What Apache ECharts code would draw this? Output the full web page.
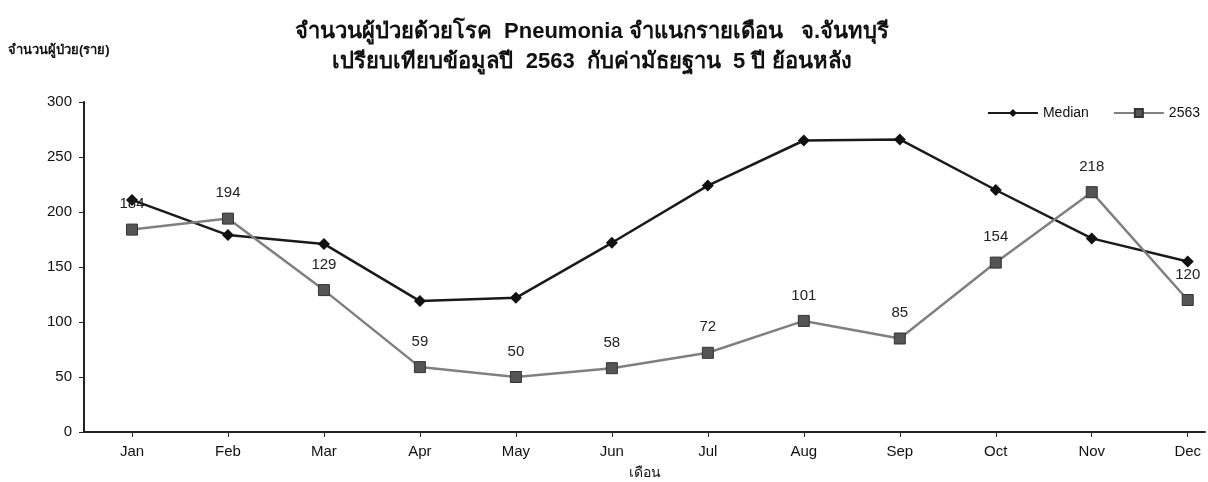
<!DOCTYPE html>
<html>
<head>
<meta charset="utf-8">
<script src="https://cdn.jsdelivr.net/npm/echarts@6/dist/echarts.min.js"></script>
<style>
  html, body { margin: 0; padding: 0; background: #fff; }
  #chart { width: 1208px; height: 482px; }
</style>
</head>
<body>
<div id="chart"></div>
<script>
var months = ['Jan', 'Feb', 'Mar', 'Apr', 'May', 'Jun', 'Jul', 'Aug', 'Sep', 'Oct', 'Nov', 'Dec'];
var medianVals = [211, 179, 171, 119, 122, 172, 224, 265, 266, 220, 176, 155];
var y2563Vals = [184, 194, 129, 59, 50, 58, 72, 101, 85, 154, 218, 120];
var yTicks = [0, 50, 100, 150, 200, 250, 300];

var monthIdx = months.map(function (m, i) { return i; });
function pairs(vals) {
	return vals.map(function (v, i) { return [i, v]; });
}

var myChart = echarts.init(document.getElementById('chart'));
var font = 'Liberation Sans, Arial, sans-serif';
option = {
	backgroundColor: '#fff',
	animation: false,
	title: {
		text: 'จำนวนผู้ป่วยด้วยโรค  Pneumonia จำแนกรายเดือน   จ.จันทบุรี\nเปรียบเทียบข้อมูลปี  2563  กับค่ามัธยฐาน  5 ปี ย้อนหลัง',
		left: 587,
		textAlign: 'center',
		top: 12,
		textStyle: {
			fontFamily: font,
			fontSize: 22,
			fontWeight: 'bold',
			color: '#111',
			lineHeight: 30
		}
	},
	graphic: [{
		type: 'text',
		left: 8,
		top: 44,
		style: {
			text: 'จำนวนผู้ป่วย(ราย)',
			font: 'bold 13px ' + font,
			fill: '#111'
		}
	}],
	legend: {
		right: 3,
		top: 101,
		itemWidth: 50,
		itemHeight: 10,
		itemGap: 24,
		textStyle: { fontFamily: font, fontSize: 14, color: '#111' },
		data: ['Median', '2563']
	},
	grid: {
		left: 84,
		right: 3,
		top: 102,
		bottom: 50,
		outerBoundsMode: 'none'
	},
	xAxis: {
		type: 'value',
		min: -0.5,
		max: 11.18,
		name: 'เดือน',
		nameLocation: 'middle',
		nameGap: 34,
		nameTextStyle: { fontFamily: font, fontSize: 14, color: '#111' },
		splitLine: { show: false },
		axisLine: { onZero: false, lineStyle: { color: '#222', width: 2 } },
		axisTick: { customValues: monthIdx, length: 5, lineStyle: { color: '#222' } },
		axisLabel: {
			customValues: monthIdx,
			formatter: function (v) { return months[v]; },
			fontFamily: font,
			fontSize: 15,
			color: '#111',
			margin: 12
		}
	},
	yAxis: {
		type: 'value',
		min: 0,
		max: 300,
		interval: 50,
		splitLine: { show: false },
		axisLine: { show: true, onZero: false, lineStyle: { color: '#222', width: 2 } },
		axisTick: { show: true, length: 5, lineStyle: { color: '#222' } },
		axisLabel: { fontFamily: font, fontSize: 15, color: '#111', margin: 12 }
	},
	series: [
		{
			name: 'Median',
			type: 'line',
			data: pairs(medianVals),
			symbol: 'diamond',
			symbolSize: 12,
			itemStyle: { color: '#111' },
			lineStyle: { color: '#1a1a1a', width: 2.5 }
		},
		{
			name: '2563',
			type: 'line',
			data: pairs(y2563Vals),
			symbol: 'rect',
			symbolSize: 11,
			itemStyle: { color: '#555', borderColor: '#333', borderWidth: 1 },
			lineStyle: { color: '#808080', width: 2.5 },
			label: {
				show: true,
				position: 'top',
				distance: 12,
				formatter: function (p) { return p.value[1]; },
				fontFamily: font,
				fontSize: 15,
				color: '#222'
			}
		}
	]
};
myChart.setOption(option);
</script>
</body>
</html>
